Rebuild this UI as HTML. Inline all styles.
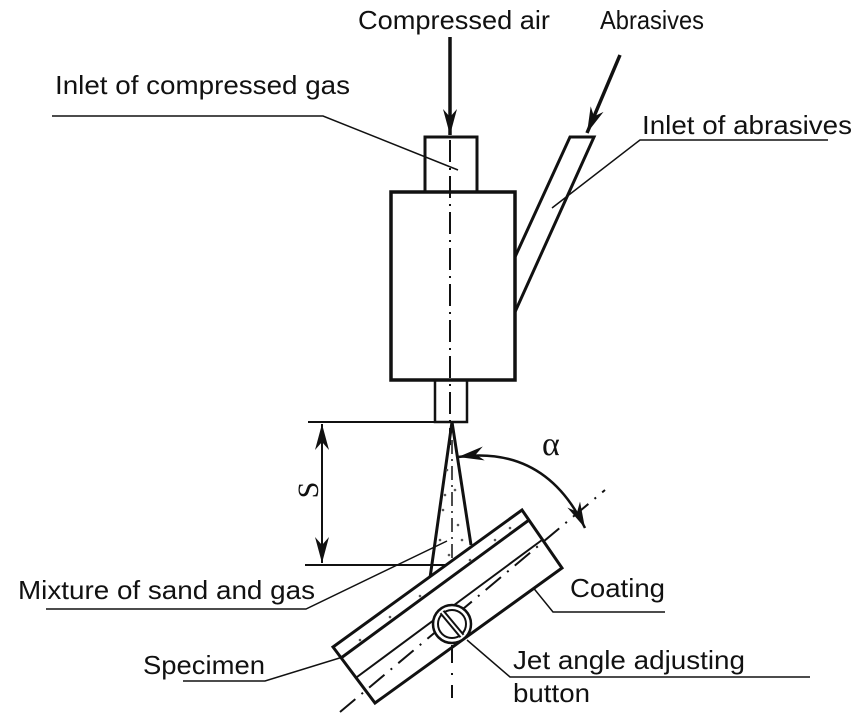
<!DOCTYPE html>
<html><head><meta charset="utf-8"><style>html,body{margin:0;padding:0;background:#fff}svg{display:block}text{font-family:"Liberation Sans",sans-serif;font-size:26px;fill:#111}</style></head>
<body>
<svg width="860" height="720" viewBox="0 0 860 720" xmlns="http://www.w3.org/2000/svg">
<defs>
<marker id="ah" viewBox="0 0 26 14" refX="26" refY="7" markerWidth="26" markerHeight="14" markerUnits="userSpaceOnUse" orient="auto"><path d="M0,0 L26,7 L0,14 L8,7 Z" fill="#111"/></marker>
<marker id="ahs" viewBox="0 0 26 14" refX="0" refY="7" markerWidth="26" markerHeight="14" markerUnits="userSpaceOnUse" orient="auto"><path d="M26,0 L0,7 L26,14 L18,7 Z" fill="#111"/></marker>
</defs>
<g stroke="#111" fill="none">
<line x1="450" y1="37" x2="450" y2="135" stroke-width="3.5" marker-end="url(#ah)"/>
<line x1="620" y1="55" x2="587" y2="133" stroke-width="3.5" marker-end="url(#ah)"/>
<rect x="425" y="137" width="52" height="55" stroke-width="3"/>
<rect x="391" y="192" width="124" height="188" stroke-width="3.5"/>
<rect x="435" y="380" width="32" height="42" stroke-width="2.5"/>
<polyline points="515,257 570,137 594,137 515,312" stroke-width="3"/>
<line x1="450" y1="140" x2="450" y2="445" stroke-width="2" stroke-dasharray="22,6,2,6"/>
<polyline points="52,116 323,116 458,170" stroke-width="1.5"/>
<polyline points="828,140 640,140 552,208" stroke-width="1.5"/>
<polyline points="46,609 306,609 447,541" stroke-width="1.5"/>
<polyline points="665,612 553,612 505,553" stroke-width="1.5"/>
<polyline points="183,681 265,681 372,648" stroke-width="1.5"/>
<polyline points="810,677 510,677 467,640" stroke-width="1.5"/>
<line x1="308" y1="422" x2="437" y2="422" stroke-width="2"/>
<line x1="305" y1="565" x2="445" y2="565" stroke-width="2"/>
<line x1="322" y1="424" x2="322" y2="563" stroke-width="2" marker-start="url(#ahs)" marker-end="url(#ah)"/>
<polyline points="430,578 452,422 471,545" stroke-width="3"/>
<line x1="452" y1="440" x2="452" y2="570" stroke-width="1.5" stroke-dasharray="14,5,2,5"/>
<polygon points="333,647 522,510 562,568 375,703" stroke-width="3" fill="#fff"/>
<line x1="341" y1="658" x2="529" y2="520" stroke-width="3"/>
<line x1="357" y1="677" x2="542" y2="540" stroke-width="2"/>
<line x1="340" y1="712" x2="605" y2="490" stroke-width="2" stroke-dasharray="20,8,2,8"/>
<line x1="452" y1="645" x2="452" y2="698" stroke-width="2" stroke-dasharray="18,10,2,10"/>
<circle cx="452" cy="624" r="19" stroke-width="2.5" fill="#fff"/>
<circle cx="452" cy="624" r="14" stroke-width="2"/>
<line x1="442" y1="612" x2="462" y2="636" stroke-width="6"/>
<line x1="442" y1="612" x2="462" y2="636" stroke-width="2" stroke="#fff"/>
<path d="M458,457 Q545,445 585,528" stroke-width="2.5" marker-start="url(#ahs)" marker-end="url(#ah)"/>
</g>
<g fill="#555">
<circle cx="447" cy="470" r="1.3"/><circle cx="455" cy="490" r="1.3"/><circle cx="443" cy="510" r="1.3"/><circle cx="458" cy="525" r="1.3"/><circle cx="440" cy="540" r="1.3"/><circle cx="449" cy="555" r="1.3"/><circle cx="462" cy="540" r="1.3"/><circle cx="445" cy="495" r="1.3"/>
<circle cx="360" cy="640" r="1.3"/><circle cx="390" cy="617" r="1.3"/><circle cx="420" cy="596" r="1.3"/><circle cx="470" cy="560" r="1.3"/><circle cx="495" cy="540" r="1.3"/><circle cx="510" cy="528" r="1.3"/>
</g>
<text x="358" y="29" textLength="192" lengthAdjust="spacingAndGlyphs">Compressed air</text>
<text x="600" y="29" textLength="104" lengthAdjust="spacingAndGlyphs">Abrasives</text>
<text x="55" y="94" textLength="295" lengthAdjust="spacingAndGlyphs">Inlet of compressed gas</text>
<text x="642" y="134" textLength="210" lengthAdjust="spacingAndGlyphs">Inlet of abrasives</text>
<text x="18" y="599" textLength="297" lengthAdjust="spacingAndGlyphs">Mixture of sand and gas</text>
<text x="570" y="597" textLength="95" lengthAdjust="spacingAndGlyphs">Coating</text>
<text x="143" y="674" textLength="122" lengthAdjust="spacingAndGlyphs">Specimen</text>
<text x="513" y="669" textLength="232" lengthAdjust="spacingAndGlyphs">Jet angle adjusting</text>
<text x="513" y="702" textLength="77" lengthAdjust="spacingAndGlyphs">button</text>
<text x="542" y="455" style="font-family:'Liberation Serif',serif;font-size:34px">α</text>
<text transform="translate(318,490) rotate(-90)" text-anchor="middle" style="font-family:'Liberation Serif',serif;font-size:30px">S</text>
</svg>
</body></html>
